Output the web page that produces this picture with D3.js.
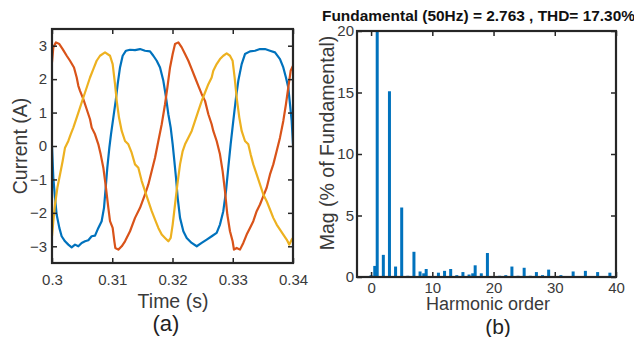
<!DOCTYPE html>
<html><head><meta charset="utf-8">
<script src="https://cdn.jsdelivr.net/npm/d3@7/dist/d3.min.js"></script>
<style>
html,body{margin:0;padding:0;background:#fff;}
svg{display:block;font-family:"Liberation Sans",Arial,Helvetica,sans-serif;}
</style></head>
<body>
<svg id="chart" width="634" height="337"></svg>
<script>
// ---------- Data: (a) three-phase currents [time (s), current (A)] ----------
const phaseBlue = [
[0.3,0],[0.30022,-0.95],[0.3005,-1.55],[0.30077,-2.05],[0.30122,-2.45],[0.3016,-2.7],[0.30216,-2.85],
[0.30271,-2.95],[0.30326,-3.03],[0.30382,-2.95],[0.30437,-3.0],[0.30492,-2.9],[0.30548,-2.85],
[0.30603,-2.82],[0.30658,-2.7],[0.30714,-2.68],[0.30769,-2.45],[0.30824,-2.25],[0.30863,-1.85],
[0.30891,-1.25],[0.30918,-0.65],[0.30952,-0.05],[0.30979,0.35],[0.31018,0.85],[0.31057,1.35],
[0.3109,1.85],[0.31129,2.35],[0.31173,2.7],[0.31228,2.85],[0.31295,2.88],[0.31378,2.87],
[0.31461,2.9],[0.31544,2.85],[0.31627,2.83],[0.31682,2.7],[0.31738,2.55],[0.31793,2.35],
[0.31848,1.95],[0.31893,1.45],[0.31931,0.95],[0.3197,0.55],[0.32003,0.05],[0.32031,-0.45],
[0.32058,-0.95],[0.32086,-1.55],[0.32125,-2.15],[0.3218,-2.55],[0.32236,-2.75],[0.32318,-2.9],
[0.32402,-3.0],[0.32484,-2.9],[0.32568,-2.8],[0.32651,-2.7],[0.32733,-2.6],[0.32788,-2.35],
[0.32843,-1.95],[0.32888,-1.35],[0.32926,-0.65],[0.32965,0.05],[0.33009,0.75],[0.33054,1.45],
[0.33092,1.95],[0.33148,2.45],[0.33203,2.75],[0.33286,2.83],[0.33369,2.85],[0.33452,2.9],
[0.33535,2.9],[0.33618,2.85],[0.33701,2.8],[0.33784,2.6],[0.33839,2.35],[0.33883,2.05],
[0.33922,1.75],[0.3395,1.25],[0.33978,0.75],[0.34,0.05]
];
const phaseOrange = [
[0.3,2.5],[0.30022,2.95],[0.30066,3.1],[0.30122,3.05],[0.30177,2.9],[0.30244,2.7],[0.30299,2.55],
[0.30365,2.35],[0.3041,2.05],[0.30437,1.8],[0.30465,1.65],[0.3052,1.4],[0.30576,1.1],[0.30631,0.8],
[0.30659,0.55],[0.30714,0.35],[0.30769,0.05],[0.30808,-0.25],[0.30852,-0.65],[0.30896,-1.25],
[0.30935,-1.85],[0.30963,-2.25],[0.31007,-2.45],[0.31035,-2.85],[0.31051,-3.05],[0.31101,-3.1],
[0.31157,-3.0],[0.31212,-2.85],[0.31295,-2.55],[0.31378,-2.15],[0.31461,-1.85],[0.31544,-1.45],
[0.31599,-1.15],[0.31655,-0.75],[0.3171,-0.35],[0.31765,0.15],[0.31821,0.65],[0.31876,1.25],
[0.31915,1.75],[0.31959,2.35],[0.32003,2.75],[0.32042,3.05],[0.32097,3.1],[0.32153,2.95],
[0.32208,2.75],[0.32263,2.55],[0.32319,2.3],[0.32374,2.05],[0.32429,1.8],[0.32485,1.55],
[0.3254,1.35],[0.32595,0.95],[0.3265,0.65],[0.32677,0.45],[0.32733,0.15],[0.32788,-0.25],
[0.32832,-0.75],[0.32871,-1.35],[0.3291,-2.05],[0.32954,-2.55],[0.32998,-2.85],[0.3302,-3.1],
[0.33065,-3.05],[0.3312,-3.1],[0.33175,-2.9],[0.33231,-2.65],[0.33286,-2.45],[0.33341,-2.25],
[0.33397,-1.95],[0.33452,-1.75],[0.33507,-1.5],[0.33563,-1.25],[0.33618,-0.85],[0.33673,-0.55],
[0.33729,-0.15],[0.33784,0.25],[0.33839,0.75],[0.33883,1.25],[0.33922,1.75],[0.33961,2.25],[0.34,2.4]
];
const phaseYellow = [
[0.3,-2.7],[0.30022,-2.25],[0.3005,-1.75],[0.30089,-1.25],[0.30133,-0.85],[0.30177,-0.45],
[0.30216,-0.05],[0.30271,0.15],[0.3031,0.35],[0.30354,0.55],[0.3041,0.85],[0.30465,1.15],
[0.3052,1.45],[0.30576,1.75],[0.30631,2.05],[0.30686,2.3],[0.30741,2.55],[0.30797,2.7],
[0.3088,2.8],[0.30963,2.7],[0.31007,2.45],[0.31046,1.85],[0.31074,1.35],[0.31112,0.85],
[0.31157,0.45],[0.31212,0.15],[0.31267,0.05],[0.31322,-0.2],[0.31378,-0.55],[0.31433,-0.65],
[0.31489,-1.05],[0.31544,-1.35],[0.31599,-1.65],[0.31655,-1.95],[0.3171,-2.2],[0.31765,-2.45],
[0.31821,-2.65],[0.31876,-2.75],[0.31931,-2.85],[0.3197,-2.75],[0.32003,-2.35],[0.32042,-1.75],
[0.32081,-1.15],[0.32125,-0.55],[0.32169,-0.15],[0.32208,0.05],[0.32263,0.25],[0.32319,0.45],
[0.32374,0.75],[0.32429,1.05],[0.32485,1.35],[0.3254,1.6],[0.32595,1.85],[0.3265,2.05],
[0.32677,2.25],[0.32733,2.45],[0.32788,2.6],[0.32843,2.7],[0.32899,2.77],[0.32954,2.7],
[0.32998,2.55],[0.33031,2.05],[0.33065,1.45],[0.33109,0.85],[0.33148,0.45],[0.33203,0.15],
[0.33258,0.05],[0.33297,-0.25],[0.33341,-0.55],[0.33397,-0.85],[0.33452,-1.15],[0.33507,-1.45],
[0.33563,-1.65],[0.33618,-1.9],[0.33673,-2.15],[0.33729,-2.35],[0.33784,-2.5],[0.33839,-2.65],
[0.33895,-2.8],[0.33939,-2.95],[0.33978,-2.8],[0.34,-2.75]
];
const timeTicks = [0.3, 0.31, 0.32, 0.33, 0.34];
const currentTicks = [-3, -2, -1, 0, 1, 2, 3];

// ---------- Data: (b) harmonic spectrum ----------
const harmonicOrders = [0,1,2,3,4,5,6,7,8,9,10,11,12,13,14,15,16,17,18,19,20,21,22,23,24,25,26,27,28,29,30,31,32,33,34,35,36,37,38,39];
const harmonicMags   = [0.15,100,1.8,15.1,0.85,5.65,0.1,2.05,0.45,0.65,0.05,0.35,0.5,0.65,0.15,0.4,0.2,0.95,0.3,1.95,0.05,0.1,0.15,0.85,0.1,0.75,0.1,0.4,0.15,0.6,0.05,0.15,0.05,0.45,0.05,0.5,0.05,0.4,0.05,0.35];
const interOrders = [0.6, 8.6, 16.6];
const interMags   = [0.9, 0.3, 0.3];
const harmonicTicks = [0, 10, 20, 30, 40];
const magTicks = [0, 5, 10, 15, 20];
const spectrumTitle = "Fundamental (50Hz) = 2.763 , THD= 17.30%";

// ---------- Drawing ----------
const svg = d3.select("#chart");
const axisColor = "#262626";
const textColor = "#3a3a3a";
const colors = {blue:"#0072BD", orange:"#D95319", yellow:"#EDB120"};

function boxAxes(g, x, y, xt, yt, xpad, ypad) {
  const [x0, x1] = x.range(), [y0, y1] = y.range();
  const style = s => { s.select(".domain").remove(); s.selectAll("line").attr("stroke", axisColor).attr("stroke-width",1.5); };
  g.append("g").attr("transform", `translate(0,${y0})`)
    .call(d3.axisBottom(x).tickValues(xt).tickSize(-5).tickPadding(xpad).tickFormat(d3.format("")))
    .call(style).call(s => s.selectAll("text").attr("fill", textColor).style("font-size","15px"));
  g.append("g").attr("transform", `translate(0,${y1})`)
    .call(d3.axisTop(x).tickValues(xt).tickSize(-5).tickFormat("")).call(style);
  g.append("g").attr("transform", `translate(${x0},0)`)
    .call(d3.axisLeft(y).tickValues(yt).tickSize(-5).tickPadding(ypad).tickFormat(d3.format("")))
    .call(style).call(s => s.selectAll("text").attr("fill", textColor).style("font-size","15px"));
  g.append("g").attr("transform", `translate(${x1},0)`)
    .call(d3.axisRight(y).tickValues(yt).tickSize(-5).tickFormat("")).call(style);
  g.append("rect").attr("x", x0).attr("y", y1).attr("width", x1 - x0).attr("height", y0 - y1)
    .attr("fill", "none").attr("stroke", axisColor).attr("stroke-width", 2.2);
}

// (a)
const xa = d3.scaleLinear().domain([0.3, 0.34]).range([52, 293]);
const ya = d3.scaleLinear().domain([-3.5, 3.5]).range([263, 29]);
const ga = svg.append("g");
ga.append("clipPath").attr("id","clipA").append("rect")
  .attr("x",52).attr("y",29).attr("width",241).attr("height",234);
const line = d3.line().x(d => xa(d[0])).y(d => ya(d[1]));
const lines = ga.append("g").attr("clip-path","url(#clipA)");
[[phaseBlue, colors.blue],[phaseOrange, colors.orange],[phaseYellow, colors.yellow]].forEach(([data, c]) => {
  lines.append("path").datum(data).attr("d", line).attr("fill","none")
    .attr("stroke", c).attr("stroke-width", 2.2).attr("stroke-linejoin","round");
});
boxAxes(ga, xa, ya, timeTicks, currentTicks, 11, 5);
ga.append("text").attr("x", 173).attr("y", 308).attr("text-anchor","middle")
  .attr("fill", textColor).style("font-size","19.5px").text("Time (s)");
ga.append("text").attr("transform","translate(27,146) rotate(-90)").attr("text-anchor","middle")
  .attr("fill", textColor).style("font-size","19.5px").text("Current (A)");
ga.append("text").attr("x", 166).attr("y", 331).attr("text-anchor","middle")
  .attr("fill", "#222").style("font-size","22px").text("(a)");

// (b)
const xb = d3.scaleLinear().domain([-2.3, 40]).range([357, 616]);
const yb = d3.scaleLinear().domain([0, 20]).range([277, 31]);
const gb = svg.append("g");
gb.append("clipPath").attr("id","clipB").append("rect")
  .attr("x",357).attr("y",31).attr("width",259).attr("height",246);
const bars = gb.append("g").attr("clip-path","url(#clipB)");
const barW = 3;
bars.selectAll("rect.h").data(harmonicOrders).join("rect").attr("class","h")
  .attr("x", (d) => xb(d) - barW/2).attr("width", barW)
  .attr("y", (d,i) => yb(Math.min(harmonicMags[i], 25)))
  .attr("height", (d,i) => yb(0) - yb(Math.min(harmonicMags[i], 25)))
  .attr("fill", colors.blue);
bars.selectAll("rect.ih").data(interOrders).join("rect").attr("class","ih")
  .attr("x", (d) => xb(d) - barW/2).attr("width", barW)
  .attr("y", (d,i) => yb(interMags[i]))
  .attr("height", (d,i) => yb(0) - yb(interMags[i]))
  .attr("fill", colors.blue);
boxAxes(gb, xb, yb, harmonicTicks, magTicks, 5, 3);
gb.append("text").attr("x", 322).attr("y", 21).attr("text-anchor","start")
  .attr("textLength", 313).attr("lengthAdjust", "spacingAndGlyphs")
  .attr("fill", "#111").style("font-size","14.5px").style("font-weight","bold").text(spectrumTitle);
gb.append("text").attr("x", 488).attr("y", 310).attr("text-anchor","middle")
  .attr("fill", textColor).style("font-size","18px").text("Harmonic order");
gb.append("text").attr("transform","translate(334,143) rotate(-90)").attr("text-anchor","middle")
  .attr("fill", textColor).style("font-size","19.5px").text("Mag (% of Fundamental)");
gb.append("text").attr("x", 498).attr("y", 334).attr("text-anchor","middle")
  .attr("fill", "#222").style("font-size","21px").text("(b)");
</script>
</body></html>
